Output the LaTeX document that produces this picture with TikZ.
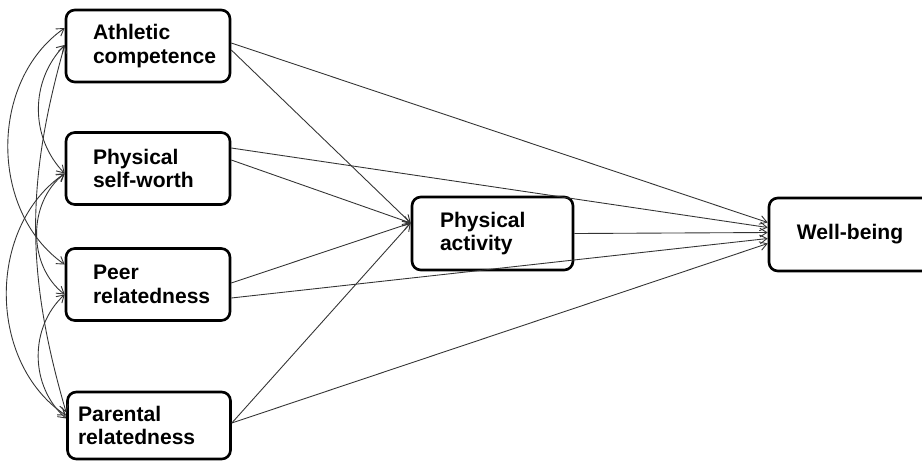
\documentclass[tikz,border=0pt]{standalone}
\usepackage{fontspec}
\setmainfont{Liberation Sans}
\usetikzlibrary{arrows.meta,positioning,calc}
\definecolor{PathGray}{HTML}{333333}
\tikzset{
  varbox/.style={draw, line width=1.5pt, rounded corners=5pt, inner sep=0pt,
    minimum width=3.28cm, minimum height=1.44cm, align=left,
    font=\fontsize{12}{13.6}\selectfont\bfseries},
  effect/.style={-{Straight Barb[length=4pt,width=5pt]}, line width=0.5pt, draw=PathGray},
  covar/.style={{Straight Barb[length=4pt,width=5pt]}-{Straight Barb[length=4pt,width=5pt]},
    line width=0.5pt, draw=PathGray}
}

\begin{document}
\begin{tikzpicture}[x=0.02cm, y=-0.02cm]
  \useasboundingbox[fill=white] (0,0) rectangle (922,461);

  \node[varbox, text width=2.2cm] (athl) at (148,46) {Athletic\\competence};
  \node[varbox, text width=2.2cm] (self) at (148,168.5) {Physical\\self-worth};
  \node[varbox, text width=2.2cm] (peer) at (148,284.5) {Peer\\relatedness};
  \node[varbox, text width=2.84cm, minimum width=3.26cm, minimum height=1.34cm] (parent) at (149,425.5) {Parental\\relatedness};
  \node[varbox, text width=2.1cm, minimum width=3.22cm, minimum height=1.46cm] (activ) at (492.5,233.5) {Physical\\activity};
  \node[varbox, align=center, minimum width=3.24cm, minimum height=1.46cm] (well) at (850,234.5) {Well-being};

  \draw[effect] ($(athl.east)+(0,4)$) -- ($(activ.west)+(0,-10.5)$);
  \draw[effect] ($(self.east)+(0,-8.5)$) -- ($(activ.west)+(0,-10.5)$);
  \draw[effect] ($(peer.east)+(0,-1.5)$) -- ($(activ.west)+(0,-10.5)$);
  \draw[effect] ($(parent.east)+(0,-2.5)$) -- ($(activ.west)+(0,-10.5)$);

  \draw[effect] ($(athl.east)+(0,-3)$) -- ($(well.west)+(0,-12)$);
  \draw[effect] ($(self.east)+(0,-20.5)$) -- ($(well.west)+(0,-7)$);
  \draw[effect] (activ.east) -- ($(well.west)+(0,-2)$);
  \draw[effect] ($(peer.east)+(0,13.5)$) -- ($(well.west)+(0,4)$);
  \draw[effect] ($(parent.east)+(0,-2.5)$) -- ($(well.west)+(0,9)$);

  \draw[covar] ($(athl.west)+(0,-18)$) to[bend right=55] ($(peer.west)+(0,-20)$);
  \draw[covar] ($(athl.west)+(0,-1)$) to[bend right=44] ($(self.west)+(0,5)$);
  \draw[covar] ($(athl.west)+(0,-1)$) to[bend right=16] ($(parent.west)+(0,-13)$);
  \draw[covar] ($(self.west)+(0,5)$) to[bend right=56] ($(parent.west)+(0,-10)$);
  \draw[covar] ($(self.west)+(0,5)$) to[bend right=52] ($(peer.west)+(0,10)$);
  \draw[covar] ($(peer.west)+(0,10)$) to[bend right=48] ($(parent.west)+(0,-7)$);
\end{tikzpicture}
\end{document}
